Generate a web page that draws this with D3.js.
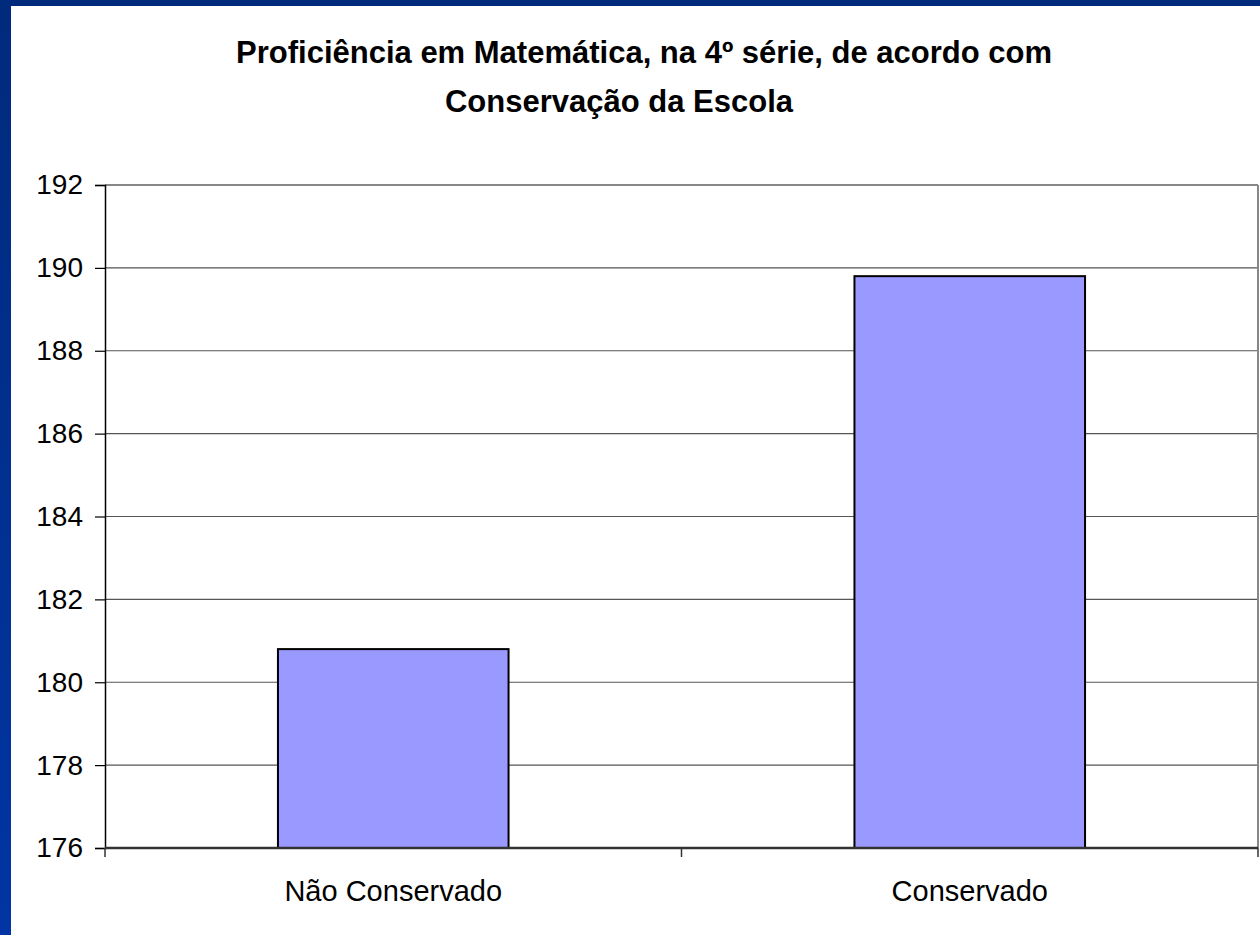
<!DOCTYPE html>
<html lang="pt">
<head>
<meta charset="UTF-8" />
<title>Proficiência em Matemática</title>
<script src="https://d3js.org/d3.v7.min.js"></script>
<style>
  body { margin: 0; background: #fff; }
  svg { display: block; font-family: "Liberation Sans", Arial, sans-serif; }
</style>
</head>
<body>
<script>
  var categories = ["Não Conservado", "Conservado"];
  var values = [180.8, 189.8];
  var yTicks = [176, 178, 180, 182, 184, 186, 188, 190, 192];
  var titleLines = ["Proficiência em Matemática, na 4º série, de acordo com", "Conservação da Escola"];

  var W = 1260, H = 935;
  var margin = { top: 185, right: 2, bottom: 87, left: 105 };
  var width = W - margin.left - margin.right,
      height = H - margin.top - margin.bottom;

  var svg = d3.select("body").append("svg")
    .attr("width", W)
    .attr("height", H);

  // blue frame like the slide background
  var defs = svg.append("defs");
  var grad = defs.append("linearGradient").attr("id", "frame")
    .attr("x1", 0).attr("y1", 0).attr("x2", 0).attr("y2", 1);
  grad.append("stop").attr("offset", "0%").attr("stop-color", "#002a7c");
  grad.append("stop").attr("offset", "100%").attr("stop-color", "#0035a3");
  svg.append("rect").attr("width", W).attr("height", H).attr("fill", "url(#frame)");
  svg.append("rect").attr("x", 11).attr("y", 6).attr("width", W - 11).attr("height", H - 6).attr("fill", "#fff");

  var x = d3.scaleBand().domain(categories).range([0, width]);
  var y = d3.scaleLinear().domain([176, 192]).range([height, 0]);

  var g = svg.append("g")
    .attr("transform", "translate(" + margin.left + "," + margin.top + ")");

  // grid lines
  g.append("g")
    .selectAll("line")
    .data(yTicks)
    .enter()
    .append("line")
    .attr("x1", 0)
    .attr("x2", width)
    .attr("y1", d => y(d))
    .attr("y2", d => y(d))
    .attr("stroke", "#555")
    .attr("stroke-width", 1.2);

  // right and top border
  g.append("line")
    .attr("x1", width).attr("x2", width)
    .attr("y1", 0).attr("y2", height)
    .attr("stroke", "#888").attr("stroke-width", 2);
  g.append("line")
    .attr("x1", 0).attr("x2", width)
    .attr("y1", 0).attr("y2", 0)
    .attr("stroke", "#888").attr("stroke-width", 2);

  // bars
  g.selectAll("rect.bar")
    .data(values)
    .enter()
    .append("rect")
    .attr("class", "bar")
    .attr("x", (d, i) => x(categories[i]) + x.bandwidth() * 0.3)
    .attr("width", x.bandwidth() * 0.4)
    .attr("y", d => y(d))
    .attr("height", d => height - y(d))
    .attr("fill", "#9999ff")
    .attr("stroke", "#000")
    .attr("stroke-width", 2);

  // y axis
  var yAxis = d3.axisLeft(y).tickValues(yTicks).tickSize(10).tickPadding(12).tickFormat(d3.format("d"));
  var ya = g.append("g").call(yAxis);
  ya.select(".domain").attr("stroke", "#000").attr("stroke-width", 1.5);
  ya.selectAll(".tick line").attr("stroke", "#000").attr("stroke-width", 1.2);
  ya.selectAll("text").attr("font-size", 28).attr("fill", "#000");

  // x axis: ticks at category boundaries
  var xa = g.append("g").attr("transform", "translate(0," + height + ")");
  xa.append("line")
    .attr("x1", 0).attr("x2", width)
    .attr("stroke", "#333").attr("stroke-width", 2.5);
  xa.selectAll("line.tk")
    .data(categories.concat(["end"]))
    .enter()
    .append("line")
    .attr("class", "tk")
    .attr("x1", (d, i) => i * x.step())
    .attr("x2", (d, i) => i * x.step())
    .attr("y1", 0).attr("y2", 9)
    .attr("stroke", "#333").attr("stroke-width", 1.5);
  xa.selectAll("text")
    .data(categories)
    .enter()
    .append("text")
    .attr("x", d => x(d) + x.bandwidth() / 2)
    .attr("y", 53)
    .attr("text-anchor", "middle")
    .attr("font-size", 29)
    .attr("fill", "#000")
    .text(d => d);

  // title
  svg.append("g")
    .selectAll("text")
    .data(titleLines)
    .enter()
    .append("text")
    .attr("x", (d, i) => i === 0 ? 644 : 619)
    .attr("y", (d, i) => 63 + i * 49)
    .attr("text-anchor", "middle")
    .attr("font-size", 31)
    .attr("font-weight", "bold")
    .attr("fill", "#000")
    .text(d => d);
</script>
</body>
</html>
